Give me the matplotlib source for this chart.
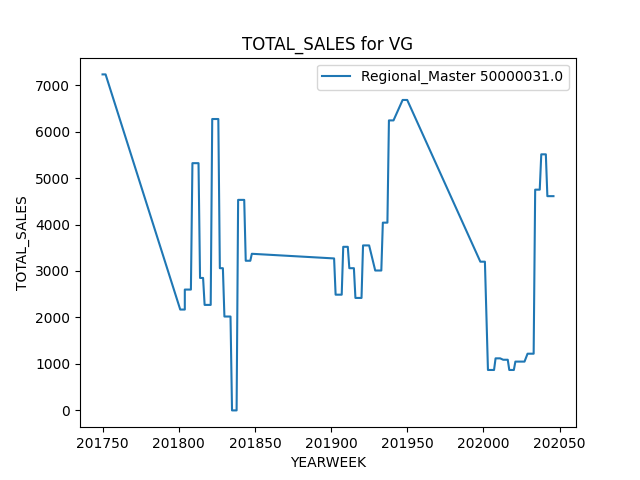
import matplotlib
matplotlib.use("Agg")
import matplotlib.pyplot as plt

yearweek = [201750, 201752, 201801, 201804, 201804, 201808, 201809, 201813, 201814, 201816,
            201817, 201821, 201822, 201826, 201827, 201829, 201830, 201834, 201835, 201838,
            201839, 201843, 201844, 201847, 201848,
            201902, 201903, 201907, 201908, 201911, 201912, 201915, 201916, 201920, 201921,
            201925, 201929, 201933, 201934, 201937, 201938, 201941, 201947, 201950,
            201998, 202001, 202003, 202007, 202008, 202011, 202013, 202016, 202017, 202020,
            202021, 202027, 202029, 202033, 202034, 202037, 202038, 202041, 202042, 202046]
sales = [7230, 7230, 2170, 2170, 2600, 2600, 5320, 5320, 2850, 2850,
         2270, 2270, 6270, 6270, 3060, 3060, 2020, 2020, 0, 0,
         4530, 4530, 3220, 3220, 3370,
         3270, 2490, 2490, 3520, 3520, 3060, 3060, 2420, 2420, 3550,
         3550, 3010, 3010, 4040, 4040, 6240, 6240, 6680, 6680,
         3200, 3200, 870, 870, 1120, 1120, 1090, 1090, 870, 870,
         1050, 1050, 1220, 1220, 4750, 4750, 5510, 5510, 4610, 4610]

fig, ax = plt.subplots(figsize=(6.4, 4.8))
ax.plot(yearweek, sales, label="Regional_Master 50000031.0")
ax.set_title("TOTAL_SALES for VG")
ax.set_xlabel("YEARWEEK")
ax.set_ylabel("TOTAL_SALES")
ax.legend()
fig.savefig("out.png", dpi=100)
